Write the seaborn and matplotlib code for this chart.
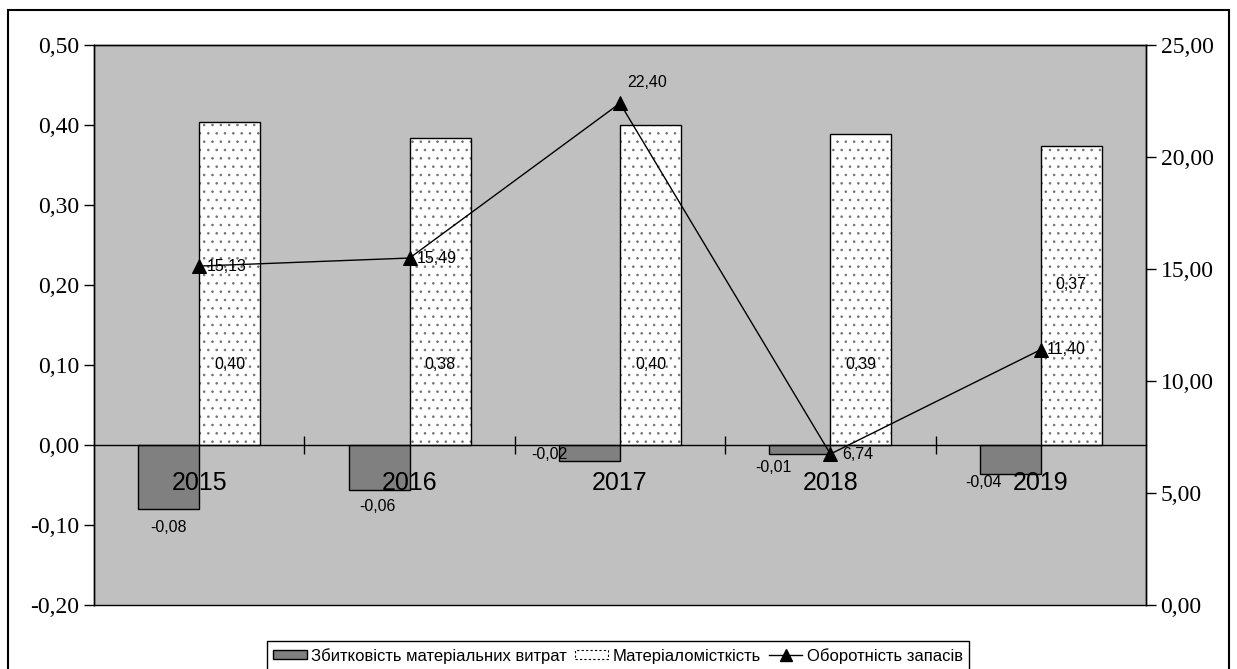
import numpy as np
import pandas as pd
import matplotlib
matplotlib.use("Agg")
import matplotlib.pyplot as plt
import seaborn as sns
from matplotlib.patches import Patch, Rectangle
from matplotlib.lines import Line2D

plt.rcParams['font.family'] = ['Liberation Sans', 'DejaVu Sans']
plt.rcParams['hatch.linewidth'] = 0.6

# дані
years = ['2015', '2016', '2017', '2018', '2019']
loss = [-0.08, -0.056, -0.02, -0.011, -0.036]          # Збитковість матеріальних витрат
intensity = [0.404, 0.384, 0.40, 0.389, 0.374]         # Матеріаломісткість
turnover = [15.13, 15.49, 22.40, 6.74, 11.40]          # Оборотність запасів

s_loss = 'Збитковість матеріальних витрат'
s_int = 'Матеріаломісткість'
s_turn = 'Оборотність запасів'

df = pd.DataFrame({
    'year': years * 2,
    'value': loss + intensity,
    'series': [s_loss] * len(years) + [s_int] * len(years),
})

# розміщення підписів (не дані)
int_label_y = [0.1, 0.1, 0.1, 0.1, 0.2]
loss_label_off = [(0, -18), (-2, -17), (-40, 6), (-26, -14), (-27, -9)]
turn_label_off = [(8, 0, 'left'), (7, 0, 'left'), (27, 21, 'center'), (12, 0, 'left'), (6, 0, 'left')]


def fmt(v):
    return f"{v:.2f}".replace('.', ',')


fig = plt.figure(figsize=(12.37, 6.69), dpi=100)
ax = fig.add_axes([94 / 1237, 1 - 605 / 669, (1146 - 94) / 1237, (605 - 45) / 669])
ax.set_facecolor('#C0C0C0')

sns.barplot(data=df, x='year', y='value', hue='series', order=years,
            hue_order=[s_loss, s_int], palette={s_loss: '#808080', s_int: 'white'},
            width=0.58, edgecolor='black', linewidth=1, saturation=1, ax=ax)
ax.get_legend().remove()

# крапчасте заповнення сірим + чорний контур поверх
for p in ax.containers[1].patches:
    p.set_hatch('..')
    p.set_edgecolor('#707070')
    p.set_linewidth(0)
    ax.add_patch(Rectangle(p.get_xy(), p.get_width(), p.get_height(), fill=False,
                           edgecolor='black', linewidth=1, zorder=p.get_zorder() + 0.1))

ax.set_xlim(-0.5, 4.5)
ax.set_ylim(-0.2, 0.5)
ax.set_yticks(np.arange(-0.2, 0.51, 0.1))
ax.set_yticklabels([fmt(v) for v in np.arange(-0.2, 0.51, 0.1)],
                   fontsize=17, family='Liberation Serif')
ax.tick_params(axis='y', direction='out', length=7, width=1)
ax.set_xlabel('')
ax.set_ylabel('')

# вісь X по нулю
ax.spines['bottom'].set_position(('data', 0))
ax.spines['bottom'].set_linewidth(1)
ax.set_xticks(range(len(years)))
ax.set_xticklabels(years, fontsize=18)
ax.set_xticks([0.5, 1.5, 2.5, 3.5], minor=True)
ax.tick_params(axis='x', which='major', length=0, pad=19)
ax.tick_params(axis='x', which='minor', direction='inout', length=13, width=1)

# підписи стовпців
for i, p in enumerate(ax.containers[0].patches):
    cx = p.get_x() + p.get_width() / 2
    dx, dy = loss_label_off[i]
    ax.annotate(fmt(loss[i]), (cx, loss[i]), xytext=(dx, dy), textcoords='offset pixels',
                ha='center', va='center', fontsize=11.5)
for i, p in enumerate(ax.containers[1].patches):
    cx = p.get_x() + p.get_width() / 2
    ax.text(cx, int_label_y[i], fmt(intensity[i]), ha='center', va='center', fontsize=11.5,
            zorder=5)

# права вісь
ax2 = ax.twinx()
sns.lineplot(x=np.arange(len(years)), y=turnover, ax=ax2, color='black', linewidth=1,
             marker='^', markersize=10, markeredgecolor='black')
ax2.set_ylim(0, 25)
ax2.set_yticks(np.arange(0, 26, 5))
ax2.set_yticklabels([fmt(v) for v in np.arange(0, 26, 5)], fontsize=17, family='Liberation Serif')
ax2.tick_params(axis='y', direction='out', length=7, width=1)
ax2.set_xlim(-0.5, 4.5)
for sp in ax2.spines.values():
    sp.set_linewidth(1)
ax.spines['left'].set_linewidth(1)
ax.spines['top'].set_linewidth(1)
ax.spines['right'].set_linewidth(1)

for i, v in enumerate(turnover):
    dx, dy, ha = turn_label_off[i]
    ax2.annotate(fmt(v), (i, v), xytext=(dx, dy), textcoords='offset pixels',
                 ha=ha, va='center', fontsize=11.5)

# легенда
handles = [
    Patch(facecolor='#808080', edgecolor='black', linewidth=1),
    Patch(facecolor='white', edgecolor='black', linewidth=0.8, linestyle=(0, (2, 2))),
    Line2D([], [], color='black', linewidth=1, marker='^', markersize=9),
]
leg = fig.legend(handles, [s_loss, s_int, s_turn], loc='upper center',
                 bbox_to_anchor=(618 / 1237, 1 - 641 / 669), ncol=3, fontsize=12,
                 frameon=True, fancybox=False, edgecolor='black', framealpha=1,
                 handlelength=2.0, handleheight=0.45, handletextpad=0.25, columnspacing=0.5,
                 borderpad=0.4, borderaxespad=0)
leg.get_frame().set_linewidth(1)

# рамка рисунка
fig.patches.append(Rectangle((8 / 1237, -0.02), (1229 - 8) / 1237, 1.02 - 10 / 669,
                             transform=fig.transFigure, fill=False,
                             edgecolor='black', linewidth=1.5))

fig.savefig('out.png', dpi=100)
